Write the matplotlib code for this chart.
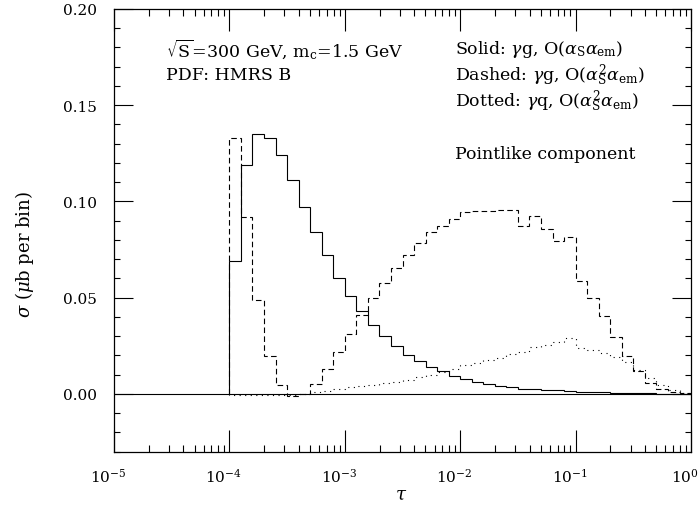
import numpy as np
import matplotlib
matplotlib.use('Agg')
import matplotlib.pyplot as plt
import matplotlib.transforms as mtransforms
from matplotlib.ticker import MultipleLocator, LogLocator, NullFormatter

plt.rcParams['font.family'] = ['DejaVu Serif']
plt.rcParams['mathtext.fontset'] = 'dejavuserif'

# bin edges: 10 bins per decade from 1e-4 to 1
edges = np.logspace(-4, 0, 41)

# sigma (mub per bin)
solid = [0.069, 0.119, 0.135, 0.133, 0.124, 0.111, 0.097, 0.084, 0.072, 0.060,
         0.051, 0.043, 0.0355, 0.030, 0.025, 0.020, 0.0169, 0.0138, 0.0116, 0.0094,
         0.0077, 0.0062, 0.0051, 0.0041, 0.0034, 0.0027, 0.0024, 0.0020, 0.0018, 0.0015,
         0.0011, 0.0009, 0.0007, 0.0005, 0.0003, 0.0002, 0.0002, 0.0001, 0.0001, 0.0]
dashed = [0.133, 0.092, 0.0488, 0.0195, 0.0045, -0.0012, 0.0, 0.005, 0.0129, 0.0219,
          0.031, 0.0409, 0.0495, 0.0574, 0.0653, 0.0719, 0.0781, 0.084, 0.0874, 0.0909,
          0.0943, 0.095, 0.095, 0.0957, 0.0953, 0.0874, 0.0924, 0.0857, 0.0796, 0.0814,
          0.0586, 0.0495, 0.0405, 0.0295, 0.0194, 0.012, 0.0058, 0.0024, 0.0007, 0.0002]
dotted = [-0.0005, -0.0005, -0.0005, -0.0005, -0.0005, -0.0005, 0.0, 0.0007, 0.0015, 0.0024,
          0.0033, 0.004, 0.0047, 0.0055, 0.0063, 0.0072, 0.0085, 0.0098, 0.0114, 0.0128,
          0.0147, 0.0162, 0.0175, 0.0188, 0.0205, 0.0215, 0.0245, 0.0255, 0.0267, 0.0288,
          0.024, 0.0229, 0.0212, 0.019, 0.0167, 0.0124, 0.0084, 0.0043, 0.0017, 0.0005]

fig = plt.figure(figsize=(6.99, 5.06), dpi=100)
ax = fig.add_axes([0.163, 0.1057, 0.8257, 0.875])

lw = 0.8
ax.axhline(0, color='black', lw=lw)
ax.stairs(solid, edges, baseline=0, color='black', lw=lw)
ax.stairs(dashed, edges, baseline=0, color='black', lw=lw, linestyle=(0, (5, 3)))
ax.stairs(dotted, edges, baseline=0, color='black', lw=lw, linestyle=(0, (1, 4)))

ax.set_xscale('log')
ax.set_xlim(1e-5, 1)
ax.set_ylim(-0.03, 0.20)

ax.yaxis.set_major_locator(MultipleLocator(0.05))
ax.yaxis.set_minor_locator(MultipleLocator(0.01))
ax.yaxis.set_major_formatter(plt.FuncFormatter(lambda v, p: f'{v:.2f}'))
ax.xaxis.set_major_locator(LogLocator(base=10, numticks=10))
ax.xaxis.set_minor_locator(LogLocator(base=10, subs=np.arange(2, 10), numticks=20))
ax.xaxis.set_minor_formatter(NullFormatter())

ax.tick_params(which='both', direction='in', top=True, right=True, labelsize=11, width=0.8)
ax.tick_params(axis='x', which='major', length=16, pad=11)
ax.tick_params(axis='x', which='minor', length=5)
ax.tick_params(axis='y', which='major', length=14, pad=12)
ax.tick_params(axis='y', which='minor', length=4.5)
for s in ax.spines.values():
    s.set_linewidth(0.9)

# shift x tick labels slightly left, like the original
shift = mtransforms.ScaledTranslation(-6 / 100, 0, fig.dpi_scale_trans)
for lab in ax.get_xticklabels():
    lab.set_transform(lab.get_transform() + shift)

ax.set_xlabel(r'$\tau$', fontsize=13)
ax.xaxis.set_label_coords(0.497, -0.075)
ax.set_ylabel(r'$\sigma$ ($\mu$b per bin)', fontsize=13)
ax.yaxis.set_label_coords(-0.135, 0.448)

fs = 12.5
ax.text(0.09, 0.910, r'$\sqrt{\rm S}$=300 GeV, m$_{\rm c}$=1.5 GeV', transform=ax.transAxes,
        fontsize=fs, va='center')
ax.text(0.09, 0.852, 'PDF: HMRS B', transform=ax.transAxes, fontsize=fs, va='center')
ax.text(0.591, 0.910, r'Solid: $\gamma$g, O($\alpha_{\rm S}\alpha_{\rm em}$)',
        transform=ax.transAxes, fontsize=fs, va='center')
ax.text(0.591, 0.850, r'Dashed: $\gamma$g, O($\alpha_{\rm S}^2\alpha_{\rm em}$)',
        transform=ax.transAxes, fontsize=fs, va='center')
ax.text(0.591, 0.792, r'Dotted: $\gamma$q, O($\alpha_{\rm S}^2\alpha_{\rm em}$)',
        transform=ax.transAxes, fontsize=fs, va='center')
ax.text(0.591, 0.673, 'Pointlike component', transform=ax.transAxes, fontsize=fs, va='center')

fig.savefig('out.png', dpi=100)
